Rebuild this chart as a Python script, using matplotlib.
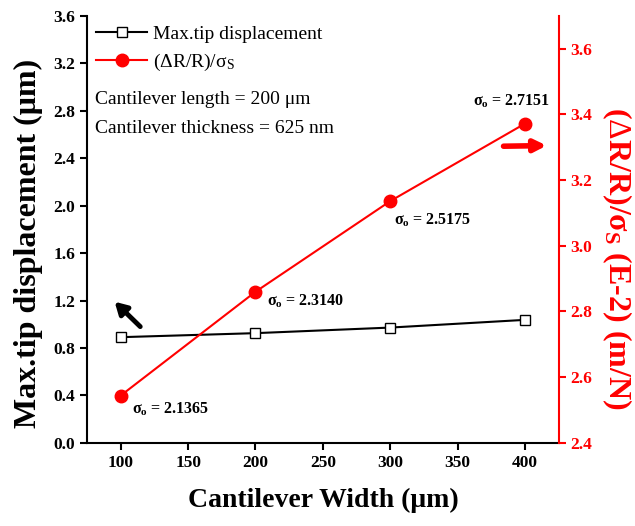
import matplotlib
matplotlib.use('Agg')
import matplotlib.pyplot as plt

plt.rcParams['font.family'] = ['Liberation Serif', 'DejaVu Serif']
plt.rcParams['mathtext.fontset'] = 'custom'
plt.rcParams['mathtext.rm'] = 'Liberation Serif'
plt.rcParams['mathtext.it'] = 'Liberation Serif:italic'
plt.rcParams['mathtext.bf'] = 'Liberation Serif:bold'

# data
width = [100, 200, 300, 400]
tip_disp = [0.891, 0.925, 0.972, 1.037]
sens = [2.544, 2.860, 3.136, 3.372]
sigma_o = ['2.1365', '2.3140', '2.5175', '2.7151']
sigma_offsets = [(8, -10), (8, -7), (3, -14), (-10, 16)]

x_ticks = [100, 150, 200, 250, 300, 350, 400]
left_ticks = [0.0, 0.4, 0.8, 1.2, 1.6, 2.0, 2.4, 2.8, 3.2, 3.6]
right_ticks = [2.4, 2.6, 2.8, 3.0, 3.2, 3.4, 3.6]

fig = plt.figure(figsize=(6.35, 5.26), dpi=100)
ax = fig.add_axes([0.137, 0.158, 0.743, 0.812])
ax2 = ax.twinx()

l1, = ax.plot(width, tip_disp, color='black', lw=1.5, marker='s', ms=7,
              mfc='white', mec='black', mew=1.0, label='Max.tip displacement')
l2, = ax2.plot(width, sens, color='red', lw=1.5, marker='o', ms=9,
               mfc='red', mec='red', label=r'($\Delta$R/R)/σ$_\mathregular{S}$')

ax.set_xlim(75, 425)
ax.set_ylim(0, 3.6)
ax2.set_ylim(2.4, 3.7)
ax.set_xticks(x_ticks)
ax.set_yticks(left_ticks)
ax2.set_yticks(right_ticks)
ax.set_yticklabels([f'{v:.1f}' for v in left_ticks])
ax2.set_yticklabels([f'{v:.1f}' for v in right_ticks])

for a in (ax, ax2):
    a.spines['top'].set_visible(False)
    a.tick_params(direction='out', length=5, width=1.5, labelsize=12.5)
    for lab in a.get_xticklabels() + a.get_yticklabels():
        lab.set_fontweight('bold')
ax.spines['left'].set_linewidth(1.5)
ax.spines['bottom'].set_linewidth(1.5)
ax.spines['right'].set_visible(False)
ax2.spines['left'].set_visible(False)
ax2.spines['bottom'].set_visible(False)
ax2.spines['right'].set_color('red')
ax2.spines['right'].set_linewidth(1.5)
ax2.tick_params(axis='y', colors='red')

ax.set_xlabel('Cantilever Width (μm)', fontsize=20, fontweight='bold', labelpad=12)
ax.set_ylabel('Max.tip displacement (μm)', fontsize=23, fontweight='bold')
ax.yaxis.set_label_coords(-0.093, 0.468)
ax2.set_ylabel(r'($\Delta$R/R)/σ$_\mathbf{S}$ (E-2) (m/N)', fontsize=23,
               fontweight='bold', color='red', rotation=270, va='bottom')
ax2.yaxis.set_label_coords(1.088, 0.433)

leg = ax.legend(handles=[l1, l2], loc='upper left', frameon=False, fontsize=14,
                handlelength=2.6, handletextpad=0.3, borderaxespad=0.2,
                labelspacing=0.45, bbox_to_anchor=(-0.005, 1.005))

ax.text(0.018, 0.805, 'Cantilever length = 200 μm', transform=ax.transAxes, fontsize=14, va='center')
ax.text(0.018, 0.735, 'Cantilever thickness = 625 nm', transform=ax.transAxes, fontsize=14, va='center')

for xv, yv, s, off in zip(width, sens, sigma_o, sigma_offsets):
    ha = 'left' if off[0] >= 0 else 'right'
    if off[1] > 0:
        ha = 'center'
    ax2.annotate('σ$_\\mathregular{o}$ = ' + s, (xv, yv), xytext=off, textcoords='offset points',
                 ha=ha, va='center', fontsize=11.5, fontweight='bold')

# direction arrows
ax.annotate('', xy=(95.5, 1.19), xytext=(114.5, 0.98),
            arrowprops=dict(arrowstyle='-|>,head_length=0.7,head_width=0.4', color='black',
                            lw=3.5, shrinkA=0, shrinkB=0))
ax2.annotate('', xy=(416, 3.305), xytext=(384, 3.303),
             arrowprops=dict(arrowstyle='-|>,head_length=0.7,head_width=0.35', color='red',
                             lw=4, shrinkA=0, shrinkB=0))

fig.savefig('out.png', dpi=100)
